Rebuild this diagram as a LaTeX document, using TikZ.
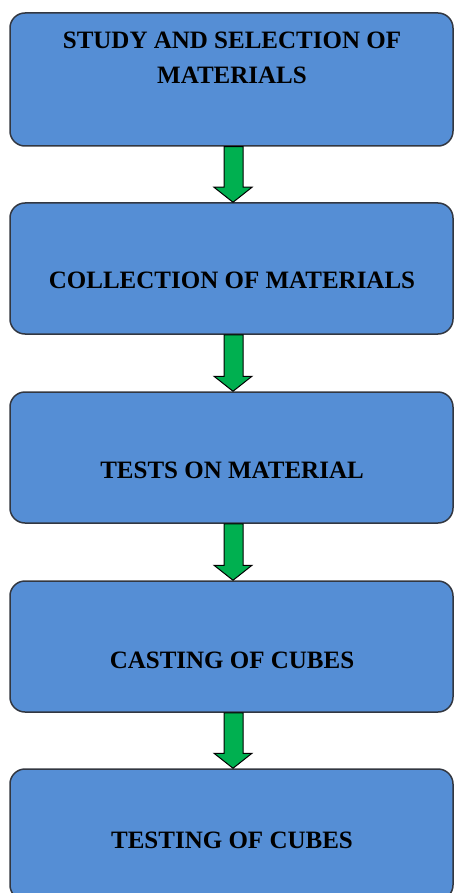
\documentclass[tikz,border=0pt]{standalone}
\usepackage{fontspec}
\setmainfont{Liberation Serif}
\usetikzlibrary{calc}
\definecolor{boxblue}{RGB}{85,142,213}
\definecolor{boxedge}{RGB}{50,55,65}
\definecolor{arrgreen}{RGB}{0,176,80}
\tikzset{
  stagebox/.style={draw=boxedge, line width=1.5pt, fill=boxblue, rounded corners=15pt,
    minimum width=443pt, minimum height=131pt, inner sep=0pt},
  stagetext/.style={font=\bfseries\fontsize{25}{35}\selectfont, text=black, align=center, inner sep=0pt},
  garrow/.style={draw=black, line width=1pt, fill=arrgreen, line join=miter}
}
\newcommand{\greenarrow}[2]{%
  \draw[garrow] ($(#1.south)+(-7.5,0)$) -- ($(#2.north)+(-7.5,-15)$) -- ($(#2.north)+(-17.5,-15)$)
    -- ($(#2.north)+(1.5,0)$) -- ($(#2.north)+(20.5,-15)$) -- ($(#2.north)+(11.5,-15)$)
    -- ($(#1.south)+(11.5,0)$) -- cycle;}
\begin{document}
\begin{tikzpicture}[x=1pt,y=-1pt]
\useasboundingbox (0,0) rectangle (454,893);
\clip (0,0) rectangle (454,893);
\node[stagebox, minimum height=133pt] (b1) at (231.5,79.5) {};
\node[stagebox] (b2) at (231.5,268.5) {};
\node[stagebox] (b3) at (231.5,457.5) {};
\node[stagebox] (b4) at (231.5,646.5) {};
\node[stagebox] (b5) at (231.5,834.5) {};
\node[stagetext] (t1) at (232,57.5) {STUDY AND SELECTION OF\\MATERIALS};
\node[stagetext] (t2) at (232,280) {COLLECTION OF MATERIALS};
\node[stagetext] (t3) at (232,470) {TESTS ON MATERIAL};
\node[stagetext] (t4) at (232,660) {CASTING OF CUBES};
\node[stagetext] (t5) at (232,840) {TESTING OF CUBES};
\greenarrow{b1}{b2}
\greenarrow{b2}{b3}
\greenarrow{b3}{b4}
\greenarrow{b4}{b5}
\end{tikzpicture}
\end{document}
